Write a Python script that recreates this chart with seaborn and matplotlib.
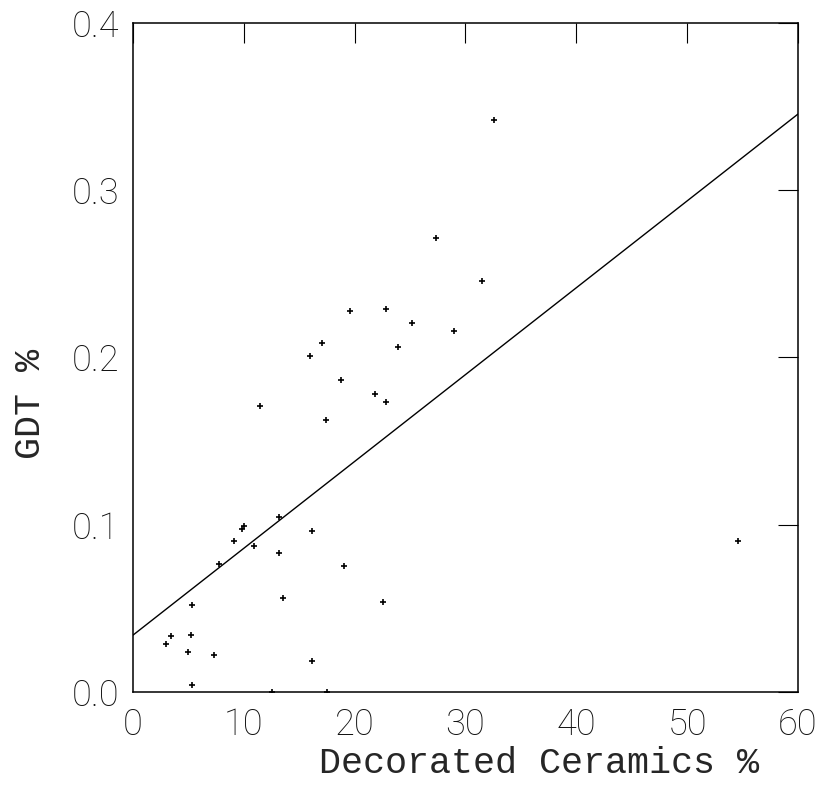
import numpy as np
import pandas as pd
import matplotlib
matplotlib.use("Agg")
import matplotlib.pyplot as plt
import seaborn as sns

# Decorated Ceramics % vs GDT %
ceramics = [2.95, 3.40, 4.93, 5.20, 5.29, 5.35, 7.34, 7.73, 9.14, 9.83,
            10.04, 10.94, 11.43, 12.55, 13.14, 13.20, 13.53, 15.96, 16.11, 16.16,
            17.02, 17.37, 17.47, 18.77, 19.01, 21.86, 22.55, 22.79, 23.94, 32.53,
            27.31, 31.53, 19.55, 22.82, 25.20, 28.92, 54.61]
gdt = [0.0284, 0.0332, 0.0240, 0.0341, 0.0522, 0.0044, 0.0222, 0.0766, 0.0905, 0.0974,
       0.0994, 0.0871, 0.1712, 0.0000, 0.0829, 0.1048, 0.0560, 0.2010, 0.0186, 0.0962,
       0.2085, 0.1627, 0.0000, 0.1865, 0.0752, 0.1780, 0.0538, 0.1736, 0.2060, 0.3419,
       0.2716, 0.2454, 0.2276, 0.2290, 0.2207, 0.2157, 0.0904]

# fitted line as drawn in the chart: intercept, slope
fit_intercept = 0.0340
fit_slope = 0.00519

x_ticks = [0, 10, 20, 30, 40, 50, 60]
y_ticks = [0.0, 0.1, 0.2, 0.3, 0.4]

df = pd.DataFrame({"ceramics": ceramics, "gdt": gdt})
fit_x = np.array([x_ticks[0], x_ticks[-1]])
fit_df = pd.DataFrame({"ceramics": fit_x, "gdt": fit_intercept + fit_slope * fit_x})

sns.set_style("white")
plt.rcParams["font.family"] = ["Roboto", "DejaVu Sans"]

fig = plt.figure(figsize=(8.23, 7.88), dpi=100)
ax = fig.add_axes([0.1616, 0.1218, 0.808, 0.8494])

sns.scatterplot(data=df, x="ceramics", y="gdt", ax=ax, marker="+", color="black",
                s=24, linewidth=1.2)
sns.lineplot(data=fit_df, x="ceramics", y="gdt", ax=ax, color="black", linewidth=1.0)

ax.set_xlim(0, 60)
ax.set_ylim(0, 0.4)
ax.set_xticks(x_ticks)
ax.set_xticklabels([str(t) for t in x_ticks])
ax.set_yticks(y_ticks)
ax.set_yticklabels([f"{t:.1f}" for t in y_ticks])
ax.tick_params(direction="in", length=14.5, width=0.8, color="black",
               top=True, right=True, labelsize=26, labelcolor="#111111")
ax.tick_params(axis="x", pad=11)
ax.tick_params(axis="y", pad=10)
for lab in ax.get_xticklabels() + ax.get_yticklabels():
    lab.set_fontweight("light")
for s in ax.spines.values():
    s.set_color("black")
    s.set_linewidth(1.1)

ax.set_xlabel("Decorated Ceramics %", family="Liberation Mono", fontsize=26.5)
ax.xaxis.set_label_coords(0.61, -0.081, transform=ax.transAxes)
ax.xaxis.label.set_verticalalignment("top")
ax.set_ylabel("GDT %", family="Liberation Mono", fontsize=26.5)
ax.yaxis.set_label_coords(-0.128, 0.43, transform=ax.transAxes)

fig.savefig("out.png", dpi=100)
